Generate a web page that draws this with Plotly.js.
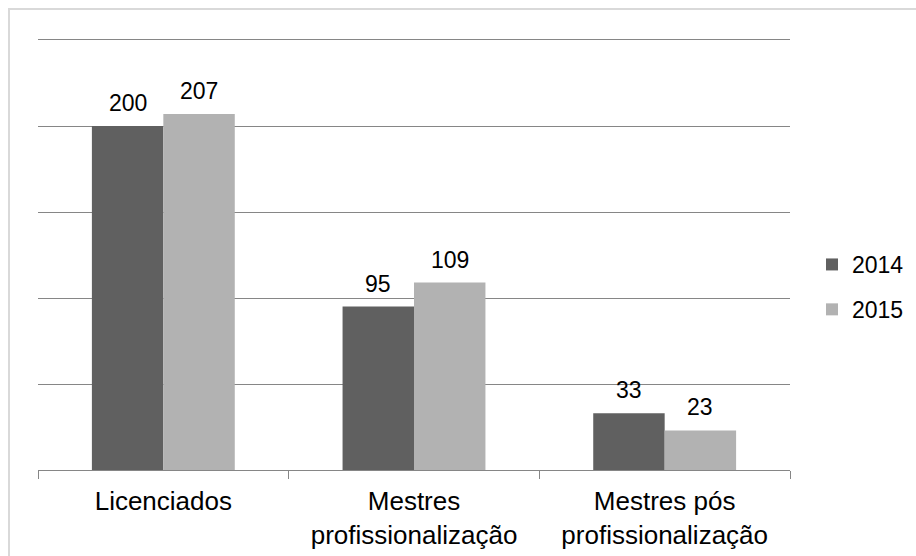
<!DOCTYPE html>
<html>
<head>
<meta charset="utf-8">
<script src="https://cdn.plot.ly/plotly-3.0.1.min.js"></script>
<style>
  html, body { margin: 0; padding: 0; background: #fff; }
  #wrap { position: relative; width: 916px; height: 556px; overflow: hidden; }
  #chart { width: 916px; height: 556px; }
  #frame { position: absolute; left: 8px; top: 8px; width: 1000px; height: 1000px;
           border-left: 2px solid #d9d9d9; border-top: 2px solid #d9d9d9; pointer-events: none; box-sizing: border-box; }
</style>
</head>
<body>
<div id="wrap">
  <div id="chart"></div>
  <div id="frame"></div>
</div>
<script>
// ---- data ----
const categories = ["Licenciados", "Mestres<br>profissionalização", "Mestres pós<br>profissionalização"];
const seriesNames = ["2014", "2015"];
const values2014 = [200, 95, 33];
const values2015 = [207, 109, 23];
const seriesColors = ["#606060", "#b2b2b2"];

// ---- layout constants ----
const W = 916, H = 556;
const M = { l: 38, r: 126, t: 40, b: 86, autoexpand: false };
const bargap = 0.43;
const plotW = W - M.l - M.r;
const plotH = H - M.t - M.b;
const catW = plotW / categories.length;
const barW = catW * (1 - bargap) / 2;
const FONT = "Liberation Sans, Arial, sans-serif";

const seriesValues = [values2014, values2015];
const traces = seriesValues.map((vals, i) => ({
  type: "bar",
  name: seriesNames[i],
  x: categories,
  y: vals,
  marker: { color: seriesColors[i], line: { width: 0 } },
  legendgroup: "g" + i,
  hoverinfo: "skip"
}));

const annotations = [];
seriesValues.forEach((vals, i) => {
  const shift = (i === 0 ? -1 : 1) * barW / 2;
  vals.forEach((v, j) => {
    annotations.push({
      x: categories[j], y: v, xref: "x", yref: "y",
      text: String(v), showarrow: false,
      xanchor: "center", yanchor: "bottom",
      xshift: shift, yshift: 8,
      font: { family: FONT, size: 23, color: "#000" }
    });
  });
});

const layout = {
  width: W, height: H,
  margin: M,
  paper_bgcolor: "#fff",
  plot_bgcolor: "#fff",
  barmode: "group",
  bargap: bargap,
  bargroupgap: 0,
  showlegend: true,
  legend: {
    x: (812 - M.l) / plotW, xanchor: "left",
    y: (470 - 287) / plotH, yanchor: "middle",
    font: { family: FONT, size: 23, color: "#000" },
    traceorder: "grouped",
    tracegroupgap: 12,
    bgcolor: "rgba(0,0,0,0)"
  },
  xaxis: {
    type: "category",
    showline: true, mirror: true, linecolor: "#868686", linewidth: 1,
    ticks: "outside", tickson: "boundaries", ticklen: 8, tickcolor: "#868686", tickwidth: 1,
    ticklabelstandoff: 8,
    showgrid: false,
    tickfont: { family: FONT, size: 26, color: "#000" },
    fixedrange: true
  },
  yaxis: {
    range: [0, 250],
    dtick: 50,
    showgrid: true, gridcolor: "#868686", gridwidth: 1,
    zeroline: false,
    showline: false,
    showticklabels: false,
    ticks: "",
    fixedrange: true
  },
  annotations: annotations
};

Plotly.newPlot("chart", traces, layout, { displayModeBar: false, staticPlot: true });
</script>
</body>
</html>
